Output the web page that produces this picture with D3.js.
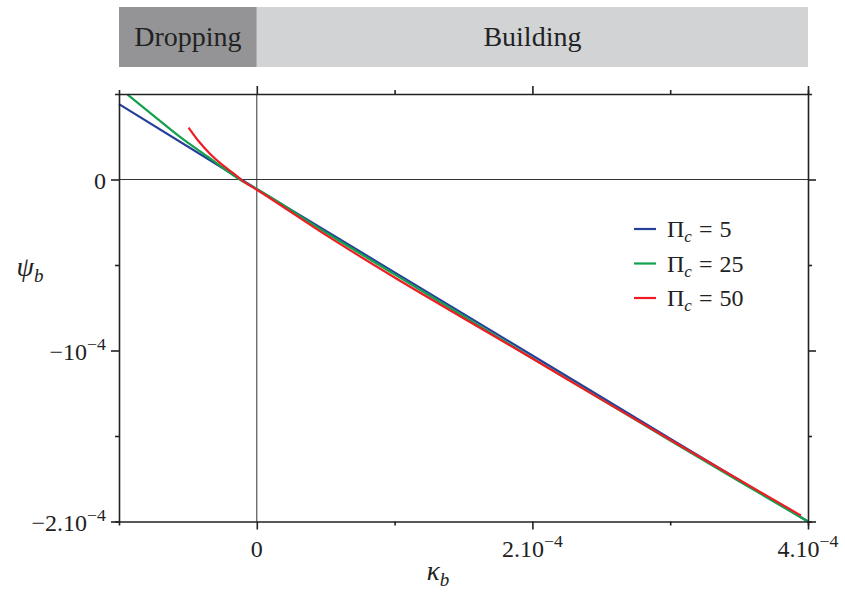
<!DOCTYPE html>
<html>
<head>
<meta charset="utf-8">
<script src="https://cdn.jsdelivr.net/npm/d3@7"></script>
<style>
  body { margin: 0; background: #fff; }
  svg { display: block; }
  text { font-family: "Liberation Serif", "Times New Roman", serif; fill: #222; }
</style>
</head>
<body>
<svg id="chart" width="845" height="595"></svg>
<script>
// Regimes shown in the band above the plot
const regimeNames = ["Dropping", "Building"];
const regimeFrom  = [-1e-4, 0];
const regimeTo    = [0, 4e-4];

// Curvature kappa_b and shape parameter psi_b for three values of Pi_c
const piValues = [5, 25, 50];

const kappa5 = [-1.0e-4, 0, 1e-4, 2e-4, 3e-4, 4e-4];
const psi5   = [0.441e-4, -0.056e-4, -0.543e-4, -1.029e-4, -1.516e-4, -2.0e-4];

const kappa25 = [-0.938e-4, -0.75e-4, -0.56e-4, -0.35e-4, -0.124e-4, 0, 0.5e-4, 1e-4, 1.5e-4, 2e-4, 2.5e-4, 3e-4, 3.5e-4, 4e-4];
const psi25   = [0.497e-4, 0.374e-4, 0.251e-4, 0.130e-4, 0.0, -0.056e-4, -0.31e-4, -0.555e-4, -0.80e-4, -1.045e-4, -1.285e-4, -1.527e-4, -1.765e-4, -2.0e-4];

const kappa50 = [-0.495e-4, -0.42e-4, -0.34e-4, -0.25e-4, -0.16e-4, -0.1e-4, 0, 0.5e-4, 1e-4, 1.5e-4, 2e-4, 2.5e-4, 3e-4, 3.5e-4, 3.949e-4];
const psi50   = [0.304e-4, 0.222e-4, 0.150e-4, 0.085e-4, 0.030e-4, -0.01e-4, -0.06e-4, -0.324e-4, -0.573e-4, -0.811e-4, -1.047e-4, -1.286e-4, -1.522e-4, -1.756e-4, -1.965e-4];

// Axis ticks
const xMajor = [0, 2e-4, 4e-4];
const xMajorLabels = [["0", ""], ["2.10", "\u22124"], ["4.10", "\u22124"]];
const xMinor = [1e-4, 3e-4];
const yMajor = [0, -1e-4, -2e-4];
const yMajorLabels = [["0", ""], ["\u221210", "\u22124"], ["\u22122.10", "\u22124"]];
const yMinor = [-0.5e-4, -1.5e-4];

const colors = ["#24409a", "#12a04c", "#ee1d25"];

const series = [
  { pi: piValues[0], k: kappa5,  p: psi5,  color: colors[0] },
  { pi: piValues[1], k: kappa25, p: psi25, color: colors[1] },
  { pi: piValues[2], k: kappa50, p: psi50, color: colors[2] }
];

const svg = d3.select("#chart");
const plotLeft = 119, plotRight = 808, plotTop = 94, plotBottom = 521.5;

const x = d3.scaleLinear().domain([-1e-4, 4e-4]).range([plotLeft, plotRight]);
const y = d3.scaleLinear().domain([-2e-4, 0.5e-4]).range([plotBottom, plotTop]);

// Regime band
const band = svg.append("g");
regimeNames.forEach((name, i) => {
  const x0 = x(regimeFrom[i]), x1 = x(regimeTo[i]);
  band.append("rect")
    .attr("x", x0).attr("y", 7)
    .attr("width", x1 - x0).attr("height", 60)
    .attr("fill", i === 0 ? "#949497" : "#d2d3d5");
  band.append("text")
    .attr("x", (x0 + x1) / 2).attr("y", 46)
    .attr("text-anchor", "middle")
    .attr("font-size", 28)
    .text(name);
});

// Zero lines
svg.append("line")
  .attr("x1", plotLeft).attr("x2", plotRight)
  .attr("y1", y(0)).attr("y2", y(0))
  .attr("stroke", "#333").attr("stroke-width", 1);
svg.append("line")
  .attr("x1", x(0)).attr("x2", x(0))
  .attr("y1", plotTop).attr("y2", plotBottom)
  .attr("stroke", "#333").attr("stroke-width", 1);

// Curves
const line = d3.line()
  .x(d => x(d[0]))
  .y(d => y(d[1]))
  .curve(d3.curveMonotoneX);

series.forEach(s => {
  svg.append("path")
    .datum(s.k.map((k, i) => [k, s.p[i]]))
    .attr("d", line)
    .attr("fill", "none")
    .attr("stroke", s.color)
    .attr("stroke-width", 2.2);
});

// Frame axes: major and minor ticks on all four sides
function styleAxis(g) {
  g.selectAll("path, line").attr("stroke", "#222").attr("stroke-width", 1.6);
  g.selectAll("text").remove();
}
const frame = svg.append("g");
[
  [d3.axisBottom, x, xMajor, xMinor, `translate(0,${plotBottom})`],
  [d3.axisTop,    x, xMajor, xMinor, `translate(0,${plotTop})`],
  [d3.axisLeft,   y, yMajor, yMinor, `translate(${plotLeft},0)`],
  [d3.axisRight,  y, yMajor, yMinor, `translate(${plotRight},0)`]
].forEach(([makeAxis, scale, major, minor, tr]) => {
  frame.append("g").attr("transform", tr)
    .call(makeAxis(scale).tickValues(major).tickSize(8).tickSizeOuter(4).tickFormat(""))
    .call(styleAxis);
  frame.append("g").attr("transform", tr)
    .call(makeAxis(scale).tickValues(minor).tickSize(4).tickSizeOuter(0).tickFormat(""))
    .call(g => g.select(".domain").remove())
    .call(styleAxis);
});

// Tick labels with superscript exponents
function powLabel(sel, parts, fs) {
  sel.append("tspan").text(parts[0]);
  if (parts[1]) {
    sel.append("tspan").attr("dy", -10).attr("font-size", fs * 0.74).text(parts[1]);
  }
}
xMajor.forEach((v, i) => {
  const t = svg.append("text")
    .attr("x", x(v)).attr("y", 557)
    .attr("text-anchor", "middle")
    .attr("font-size", 24);
  powLabel(t, xMajorLabels[i], 24);
});
yMajor.forEach((v, i) => {
  const t = svg.append("text")
    .attr("x", 106).attr("y", y(v) + 9)
    .attr("text-anchor", "end")
    .attr("font-size", 24);
  powLabel(t, yMajorLabels[i], 24);
});

// Axis titles
const xt = svg.append("text").attr("x", 438).attr("y", 580)
  .attr("text-anchor", "middle").attr("font-size", 27);
xt.append("tspan").attr("font-style", "italic").text("\u03ba");
xt.append("tspan").attr("font-style", "italic").attr("font-size", 19).attr("dy", 6).text("b");

const yt = svg.append("text").attr("x", 30).attr("y", 276)
  .attr("text-anchor", "middle").attr("font-size", 28);
yt.append("tspan").attr("font-style", "italic").text("\u03c8");
yt.append("tspan").attr("font-style", "italic").attr("font-size", 19).attr("dy", 6).text("b");

// Legend
const legend = svg.append("g");
series.forEach((s, i) => {
  const ly = 229 + i * 34.5;
  legend.append("line")
    .attr("x1", 634).attr("x2", 656)
    .attr("y1", ly).attr("y2", ly)
    .attr("stroke", s.color).attr("stroke-width", 2.2);
  const t = legend.append("text")
    .attr("x", 667).attr("y", ly + 8)
    .attr("font-size", 24);
  t.append("tspan").text("\u03a0");
  t.append("tspan").attr("font-style", "italic").attr("font-size", 17).attr("dy", 5).text("c");
  t.append("tspan").attr("dy", -5).attr("dx", 7).text("=");
  t.append("tspan").attr("dx", 7).text(String(s.pi));
});
</script>
</body>
</html>
